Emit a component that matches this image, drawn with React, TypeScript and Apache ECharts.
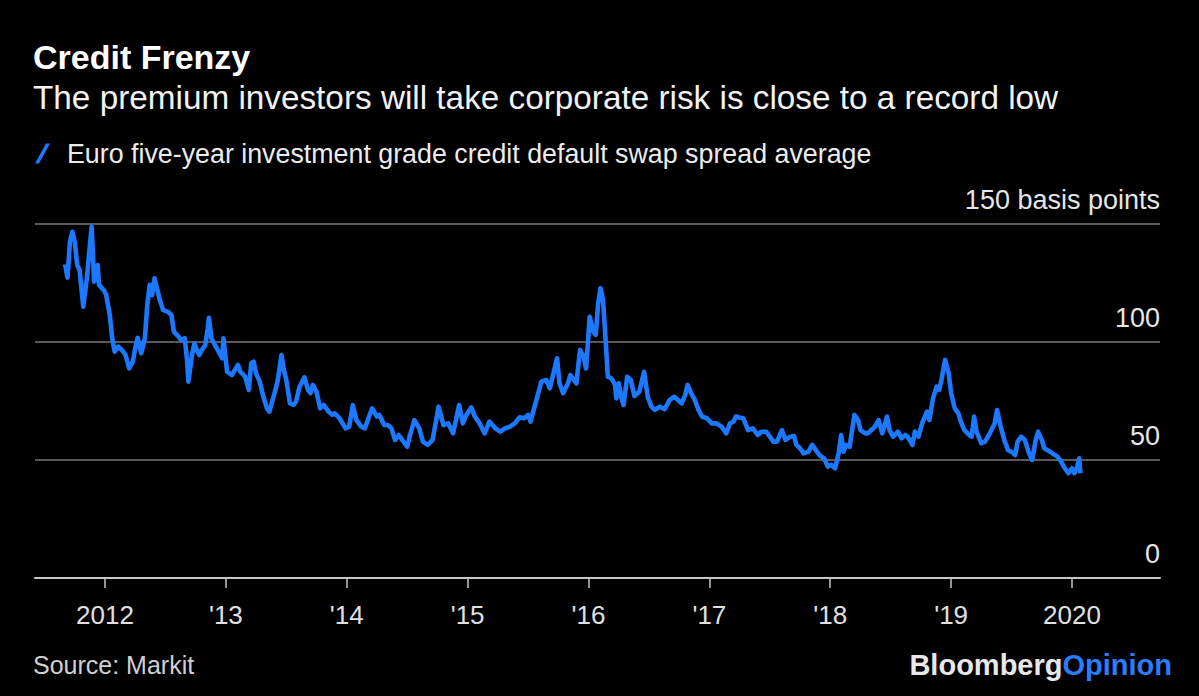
import React, { useEffect, useRef } from "react";
import * as echarts from "echarts";

const dates = [
  2011.67, 2011.69, 2011.71, 2011.73, 2011.75, 2011.77, 2011.79, 2011.82, 2011.85, 2011.87,
  2011.89, 2011.91, 2011.94, 2011.95, 2011.99, 2012.01, 2012.04, 2012.06, 2012.08, 2012.11,
  2012.14, 2012.17, 2012.2, 2012.23, 2012.25, 2012.27, 2012.3, 2012.33, 2012.35, 2012.37,
  2012.39, 2012.41, 2012.43, 2012.45, 2012.48, 2012.52, 2012.55, 2012.57, 2012.61, 2012.63,
  2012.66, 2012.68, 2012.69, 2012.72, 2012.74, 2012.76, 2012.78, 2012.8, 2012.83, 2012.85,
  2012.86, 2012.88, 2012.91, 2012.94, 2012.97, 2012.98, 2013.01, 2013.03, 2013.05, 2013.1,
  2013.12, 2013.16, 2013.19, 2013.21, 2013.23, 2013.25, 2013.28, 2013.31, 2013.34, 2013.36,
  2013.41, 2013.43, 2013.46, 2013.48, 2013.5, 2013.53, 2013.56, 2013.58, 2013.61, 2013.65,
  2013.68, 2013.7, 2013.72, 2013.75, 2013.78, 2013.81, 2013.85, 2013.88, 2013.9, 2013.94,
  2013.99, 2014.02, 2014.05, 2014.08, 2014.12, 2014.15, 2014.18, 2014.21, 2014.25, 2014.27,
  2014.31, 2014.34, 2014.37, 2014.4, 2014.43, 2014.45, 2014.5, 2014.52, 2014.56, 2014.6,
  2014.63, 2014.67, 2014.71, 2014.73, 2014.76, 2014.8, 2014.84, 2014.88, 2014.93, 2014.96,
  2014.99, 2015.03, 2015.06, 2015.1, 2015.14, 2015.18, 2015.23, 2015.27, 2015.31, 2015.35,
  2015.39, 2015.43, 2015.47, 2015.5, 2015.52, 2015.55, 2015.58, 2015.61, 2015.65, 2015.68,
  2015.71, 2015.74, 2015.76, 2015.79, 2015.83, 2015.85, 2015.87, 2015.9, 2015.93, 2015.96,
  2015.98, 2016.01, 2016.04, 2016.06, 2016.08, 2016.1, 2016.12, 2016.14, 2016.16, 2016.19,
  2016.22, 2016.23, 2016.25, 2016.27, 2016.29, 2016.32, 2016.35, 2016.38, 2016.42, 2016.46,
  2016.49, 2016.52, 2016.55, 2016.59, 2016.63, 2016.67, 2016.71, 2016.74, 2016.77, 2016.8,
  2016.82, 2016.85, 2016.88, 2016.91, 2016.94, 2016.98, 2017.02, 2017.06, 2017.1, 2017.14,
  2017.17, 2017.2, 2017.22, 2017.25, 2017.28, 2017.32, 2017.36, 2017.4, 2017.43, 2017.47,
  2017.5, 2017.53, 2017.56, 2017.6, 2017.63, 2017.67, 2017.7, 2017.72, 2017.75, 2017.78,
  2017.82, 2017.85, 2017.87, 2017.91, 2017.95, 2017.98, 2018.01, 2018.04, 2018.07, 2018.09,
  2018.11, 2018.13, 2018.16, 2018.2, 2018.23, 2018.25, 2018.29, 2018.31, 2018.34, 2018.37,
  2018.4, 2018.43, 2018.47, 2018.49, 2018.52, 2018.56, 2018.59, 2018.62, 2018.64, 2018.68,
  2018.7, 2018.73, 2018.76, 2018.8, 2018.82, 2018.85, 2018.88, 2018.9, 2018.92, 2018.95,
  2018.98, 2019.0, 2019.03, 2019.06, 2019.08, 2019.11, 2019.15, 2019.17, 2019.19, 2019.21,
  2019.25, 2019.28, 2019.32, 2019.36, 2019.38, 2019.41, 2019.44, 2019.47, 2019.5, 2019.53,
  2019.55, 2019.58, 2019.61, 2019.64, 2019.67, 2019.7, 2019.72, 2019.75, 2019.77, 2019.82,
  2019.86, 2019.88, 2019.91, 2019.94, 2019.97, 2020.0, 2020.02, 2020.04, 2020.06, 2020.07,
];

const spread = [
  132.9, 127.3, 142.5, 146.7, 142.5, 132.6, 130.5, 115, 127, 138.3,
  148.9, 125.6, 132.6, 124.2, 122, 119.9, 111.4, 101.6, 95.9, 98,
  96.6, 94.5, 88.8, 91.7, 97.3, 101.8, 95.2, 101.6, 115.7, 124.2,
  119.9, 127, 122.8, 118.5, 113.6, 112.8, 111.4, 104.4, 102.2, 100.8,
  101.6, 91.7, 83.2, 94.5, 99.4, 96.6, 94.5, 96.6, 98.7, 105.8,
  110.3, 101.6, 98.7, 95.9, 93.1, 101.6, 87.4, 86.7, 86, 90.3,
  87.4, 85.3, 79.7, 91, 91.7, 86.7, 83.2, 76.8, 71.9, 70.5,
  79.7, 83.9, 94.5, 88.1, 83.9, 74, 73.3, 74.7, 81.1, 85,
  79.7, 78.3, 81.8, 78.9, 71.9, 73.3, 70.5, 69.1, 69.8, 67.7,
  63.4, 64.1, 73.3, 66.9, 64.1, 63.4, 67.7, 71.9, 68.4, 69.1,
  64.8, 64.8, 63.4, 58.5, 60.6, 59.2, 55.6, 59.9, 66.9, 63.4,
  57.8, 56.4, 58.5, 64.1, 72.6, 64.8, 65.5, 61.3, 73.3, 65.5,
  69.1, 72.3, 68.4, 65.5, 61.3, 66.3, 63.4, 62, 63.4, 64.1,
  65.5, 68.1, 67.7, 69.1, 66.3, 71.9, 77.5, 83.2, 83.9, 80.4,
  86.7, 93.1, 82.5, 78.3, 82.5, 86, 84.6, 82.5, 96.6, 93.8,
  88.8, 110.7, 104.4, 103, 116.4, 122.8, 117.8, 102.2, 85.3, 84.6,
  81.8, 76.1, 82.5, 76.8, 73.3, 85.3, 83.9, 77.1, 78.9, 87.4,
  76.8, 72.6, 71.2, 72.6, 71.5, 75.4, 76.8, 75.4, 74, 77.5,
  81.8, 78.3, 75.4, 71.2, 68.4, 67.7, 65.5, 65.5, 64.1, 61.3,
  65.5, 66.3, 68.4, 68, 67.7, 62.7, 63.4, 60.6, 62, 62,
  59.9, 57.8, 57.8, 62.7, 58.5, 59.9, 60.2, 56.4, 55, 52.8,
  53.5, 56.4, 55, 52.1, 50.7, 47.2, 47.9, 46.5, 52.8, 60.6,
  53.5, 56.4, 55.6, 69.1, 66.9, 62.7, 61.3, 61.3, 62.7, 64.1,
  66.9, 61.3, 68.4, 62.7, 59.9, 62, 59.2, 60.6, 59.9, 56.4,
  62, 59.9, 65.5, 70.5, 66.9, 76.1, 81.1, 79.7, 83.9, 92.4,
  86.7, 78.3, 71.9, 69.8, 66.3, 62.7, 60.6, 59.9, 68.4, 62,
  57.1, 57.8, 61.3, 65.5, 71.2, 64.1, 58.5, 54.2, 53.5, 52.1,
  57.8, 59.9, 58.5, 53.5, 50, 58.5, 62, 58.5, 55, 53.5,
  52.1, 51.4, 49.3, 46.5, 44.4, 46.5, 44.4, 46.5, 50.7, 44.4,
];

const tickYears = [2012, 2013, 2014, 2015, 2016, 2017, 2018, 2019, 2020];
const yTicks = [0, 50, 100, 150];

const titleText = "Credit Frenzy";
const subtitleText =
  "The premium investors will take corporate risk is close to a record low";
const seriesName =
  "Euro five-year investment grade credit default swap spread average";
const sourceText = "Source: Markit";

const FONT = "'Liberation Sans', Arial, sans-serif";
const BLUE = "#1b78ff";

export default function App() {
  const ref = useRef<HTMLDivElement>(null);

  useEffect(() => {
    if (!ref.current) return;
    const chart = echarts.init(ref.current, null, { renderer: "svg" });
    const data = dates.map((d, i) => [d, spread[i]]);

    chart.setOption({
      animation: false,
      backgroundColor: "#000000",
      textStyle: { fontFamily: FONT },
      title: [
        {
          text: titleText,
          left: 33,
          top: 40,
          padding: 0,
          textStyle: {
            fontFamily: FONT,
            fontSize: 34,
            fontWeight: "bold",
            color: "#ffffff",
          },
        },
        {
          text: subtitleText,
          left: 33,
          top: 81,
          padding: 0,
          textStyle: {
            fontFamily: FONT,
            fontSize: 33.3,
            fontWeight: "normal",
            color: "#f2f2f2",
          },
        },
        {
          text: sourceText,
          left: 33,
          top: 652,
          padding: 0,
          textStyle: {
            fontFamily: FONT,
            fontSize: 25,
            fontWeight: "normal",
            color: "#d0d0d0",
          },
        },
      ],
      legend: {
        left: 35,
        top: 140,
        padding: 0,
        data: [seriesName],
        icon: "path://M0,20 L11,0 L15,0 L4,20 Z",
        itemWidth: 15,
        itemHeight: 20,
        textStyle: {
          fontFamily: FONT,
          fontSize: 26.8,
          color: "#ececec",
          padding: [0, 0, 0, 12],
        },
      },
      grid: {
        left: 35,
        right: 39,
        top: 224,
        bottom: 118,
        containLabel: false,
      },
      xAxis: {
        type: "value",
        min: 2011.421,
        max: 2020.728,
        splitLine: { show: false },
        axisLine: {
          show: true,
          onZero: false,
          lineStyle: { color: "#c8c8c8", width: 2 },
        },
        axisTick: {
          show: true,
          length: 10,
          customValues: tickYears,
          lineStyle: { color: "#c8c8c8", width: 1.5 },
        },
        axisLabel: {
          customValues: tickYears,
          margin: 24,
          fontFamily: FONT,
          fontSize: 26,
          color: "#e0e0e0",
          formatter: (v: number) =>
            v === 2012 || v === 2020 ? String(v) : "'" + String(v).slice(2),
        },
      },
      yAxis: {
        type: "value",
        position: "right",
        min: 0,
        max: 150,
        interval: 50,
        axisLine: { show: false },
        axisTick: { show: false },
        splitLine: {
          show: true,
          lineStyle: { color: "#5a5a5a", width: 2 },
        },
        axisLabel: {
          inside: true,
          margin: 0,
          align: "right",
          verticalAlign: "bottom",
          padding: [0, 0, 11, 0],
          fontFamily: FONT,
          fontSize: 27,
          color: "#e6e6e6",
          customValues: yTicks,
          formatter: (v: number) => (v === 150 ? "150 basis points" : String(v)),
        },
      },
      series: [
        {
          name: seriesName,
          type: "line",
          data,
          showSymbol: false,
          symbol: "none",
          color: BLUE,
          lineStyle: { color: BLUE, width: 4.6, join: "round" },
          z: 5,
        },
      ],
      graphic: [
        {
          type: "text",
          right: 27,
          top: 650,
          style: {
            text: "{a|Bloomberg}{b|Opinion}",
            rich: {
              a: {
                fontFamily: FONT,
                fontSize: 29,
                fontWeight: "bold",
                fill: "#e8e8e8",
              },
              b: {
                fontFamily: FONT,
                fontSize: 29,
                fontWeight: "bold",
                fill: "#2b7cff",
              },
            },
          },
        },
      ],
    });

    return () => {
      chart.dispose();
    };
  }, []);

  return (
    <div
      ref={ref}
      style={{
        position: "fixed",
        left: 0,
        top: 0,
        width: "1199px",
        height: "696px",
        background: "#000",
      }}
    />
  );
}
